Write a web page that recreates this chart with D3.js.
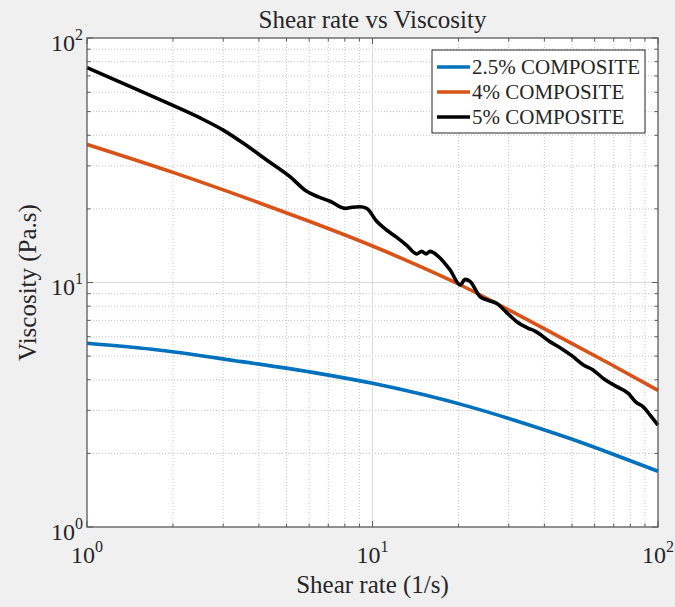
<!DOCTYPE html>
<html><head><meta charset="utf-8">
<script src="https://cdn.jsdelivr.net/npm/d3@7"></script>
<style>
html,body{margin:0;padding:0;background:#f0f0f0;}
svg{display:block;}
text{font-family:"Liberation Serif","Times New Roman",serif;fill:#262626;}
</style></head>
<body><svg id="chart" width="675" height="607"></svg>
<script>
// ---------- data ----------
const seriesNames = ["2.5% COMPOSITE", "4% COMPOSITE", "5% COMPOSITE"];
const seriesColors = ["#0072BD", "#D95319", "#000000"];

const shear25 = [1, 1.686, 3.30, 6.46, 10, 21.96, 30, 49.2, 70, 100];
const visc25  = [5.64, 5.33, 4.79, 4.25, 3.87, 3.10, 2.78, 2.30, 1.98, 1.69];

const shear4 = [1, 2, 4, 6, 10, 15, 20, 30, 45, 68, 100];
const visc4  = [36.7, 28.2, 21.2, 17.8, 14.1, 11.5, 9.86, 7.73, 6.01, 4.64, 3.62];

const shear5 = [1, 1.5, 2, 2.5, 3, 3.53, 4.26, 5.14, 5.88, 6.46, 7.10, 8.01, 8.48, 9.04, 9.54,
  10.34, 11.2, 12.16, 13.18, 14.28, 14.87, 15.4, 15.9, 17.0, 18.7, 20.3, 21.1, 21.96, 23.8, 25.2, 27.2,
  29.4, 32.0, 35.0, 37.1, 41.8, 46.1, 50.0, 54.8, 59.2, 64.7, 71.7, 78.5, 83.7, 88.8, 93.8, 100];
const visc5  = [75.6, 61.5, 53.0, 47.0, 42.0, 37.1, 31.7, 27.1, 23.6, 22.4, 21.5, 20.1, 20.3, 20.4, 20.1,
  17.8, 16.4, 15.3, 14.2, 13.1, 13.4, 13.1, 13.4, 12.8, 11.25, 9.77, 10.3, 10.1, 8.75, 8.48, 8.22,
  7.57, 6.91, 6.51, 6.33, 5.73, 5.35, 5.01, 4.60, 4.39, 4.03, 3.75, 3.53, 3.24, 3.10, 2.87, 2.61];

const xTickValues = [1, 10, 100];
const xTickExponents = ["0", "1", "2"];
const yTickValues = [1, 10, 100];
const yTickExponents = ["0", "1", "2"];

const titleText = "Shear rate vs Viscosity";
const xLabelText = "Shear rate (1/s)";
const yLabelText = "Viscosity (Pa.s)";

// ---------- layout ----------
const L = 87, R = 658, T = 38, B = 527;
const svg = d3.select("#chart");
const x = d3.scaleLog().domain([1, 100]).range([L, R]);
const y = d3.scaleLog().domain([1, 100]).range([B, T]);

const minorVals = [];
[1, 10].forEach(d => { for (let k = 2; k <= 9; k++) minorVals.push(d * k); });

// plot background
svg.append("rect").attr("x", L).attr("y", T).attr("width", R - L).attr("height", B - T).attr("fill", "#ffffff");

// minor grid (dotted)
const g = svg.append("g");
g.selectAll(".mx").data(minorVals).join("line")
  .attr("x1", d => x(d)).attr("x2", d => x(d)).attr("y1", T).attr("y2", B)
  .attr("stroke", "#c4c4c4").attr("stroke-width", 1).attr("stroke-dasharray", "1,2");
g.selectAll(".my").data(minorVals).join("line")
  .attr("y1", d => y(d)).attr("y2", d => y(d)).attr("x1", L).attr("x2", R)
  .attr("stroke", "#c4c4c4").attr("stroke-width", 1).attr("stroke-dasharray", "1,2");
// major grid
g.selectAll(".Mx").data([10]).join("line")
  .attr("x1", d => x(d)).attr("x2", d => x(d)).attr("y1", T).attr("y2", B)
  .attr("stroke", "#dcdcdc").attr("stroke-width", 1);
g.selectAll(".My").data([10]).join("line")
  .attr("y1", d => y(d)).attr("y2", d => y(d)).attr("x1", L).attr("x2", R)
  .attr("stroke", "#dcdcdc").attr("stroke-width", 1);

// lines
const series = [
  {name: seriesNames[0], color: seriesColors[0], xs: shear25, ys: visc25},
  {name: seriesNames[1], color: seriesColors[1], xs: shear4, ys: visc4},
  {name: seriesNames[2], color: seriesColors[2], xs: shear5, ys: visc5}
];
const line = d3.line().x(d => x(d[0])).y(d => y(d[1])).curve(d3.curveMonotoneX);
series.forEach(s => {
  const pts = s.xs.map((v, i) => [v, s.ys[i]]);
  svg.append("path").attr("d", line(pts)).attr("fill", "none")
    .attr("stroke", s.color).attr("stroke-width", 3.6)
    .attr("stroke-linejoin", "round").attr("stroke-linecap", "butt");
});

// axes box
svg.append("rect").attr("x", L).attr("y", T).attr("width", R - L).attr("height", B - T)
  .attr("fill", "none").attr("stroke", "#5a5a5a").attr("stroke-width", 1.3);

// ticks (inward, all four sides)
const tk = svg.append("g").attr("stroke", "#5a5a5a").attr("stroke-width", 1);
const majLen = 6, minLen = 3.5;
xTickValues.concat(minorVals).forEach(v => {
  const len = xTickValues.includes(v) ? majLen : minLen;
  tk.append("line").attr("x1", x(v)).attr("x2", x(v)).attr("y1", B).attr("y2", B - len);
  tk.append("line").attr("x1", x(v)).attr("x2", x(v)).attr("y1", T).attr("y2", T + len);
});
yTickValues.concat(minorVals).forEach(v => {
  const len = yTickValues.includes(v) ? majLen : minLen;
  tk.append("line").attr("y1", y(v)).attr("y2", y(v)).attr("x1", L).attr("x2", L + len);
  tk.append("line").attr("y1", y(v)).attr("y2", y(v)).attr("x1", R).attr("x2", R - len);
});

// tick labels
const tickFont = 24, supFont = 16;
xTickValues.forEach((v, i) => {
  const t = svg.append("text").attr("x", x(v)).attr("y", 563).attr("text-anchor", "middle")
    .attr("font-size", tickFont);
  t.append("tspan").text("10");
  t.append("tspan").attr("font-size", supFont).attr("dy", -11).text(xTickExponents[i]);
});
yTickValues.forEach((v, i) => {
  const t = svg.append("text").attr("x", 83).attr("y", y(v) + 12.5).attr("text-anchor", "end")
    .attr("font-size", tickFont);
  t.append("tspan").text("10");
  t.append("tspan").attr("font-size", supFont).attr("dy", -11).text(yTickExponents[i]);
});

// title and labels
svg.append("text").attr("x", (L + R) / 2).attr("y", 28).attr("text-anchor", "middle")
  .attr("font-size", 25).text(titleText);
svg.append("text").attr("x", (L + R) / 2).attr("y", 593).attr("text-anchor", "middle")
  .attr("font-size", 25).text(xLabelText);
svg.append("text").attr("transform", `translate(36,${(T + B) / 2}) rotate(-90)`)
  .attr("text-anchor", "middle").attr("font-size", 25).text(yLabelText);

// legend
const lg = svg.append("g");
lg.append("rect").attr("x", 432).attr("y", 50).attr("width", 213).attr("height", 83)
  .attr("fill", "#ffffff").attr("stroke", "#262626").attr("stroke-width", 1);
series.forEach((s, i) => {
  const yy = 67 + i * 25;
  lg.append("line").attr("x1", 437).attr("x2", 470).attr("y1", yy).attr("y2", yy)
    .attr("stroke", s.color).attr("stroke-width", 3.6);
  lg.append("text").attr("x", 472).attr("y", yy).attr("dy", "0.35em")
    .attr("font-size", 21).text(s.name);
});
</script></body></html>
